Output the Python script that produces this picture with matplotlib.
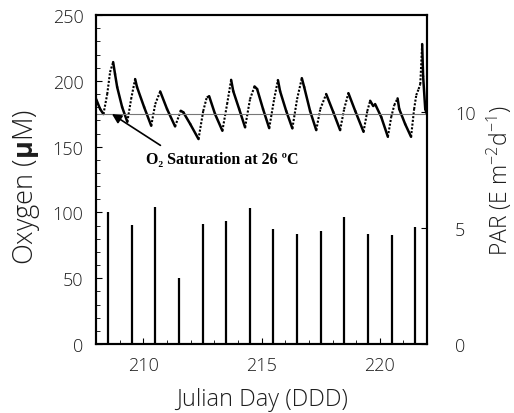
import matplotlib
matplotlib.use('Agg')
import matplotlib.pyplot as plt
import numpy as np
from matplotlib.ticker import MultipleLocator

# ---- data ----
o2_day = [208.00, 208.17, 208.31, 208.47, 208.59, 208.72, 208.80, 208.89, 209.10, 209.32,
          209.48, 209.65, 209.73, 210.03, 210.33,
          210.50, 210.71, 211.00, 211.34,
          211.58, 211.69, 211.98, 212.33,
          212.53, 212.68, 212.78, 213.03, 213.34,
          213.54, 213.71, 213.80, 214.05, 214.30,
          214.51, 214.70, 214.81, 215.06, 215.32,
          215.53, 215.69, 215.78, 216.04, 216.30,
          216.50, 216.70, 216.80, 217.05, 217.31,
          217.48, 217.73, 218.03, 218.32,
          218.49, 218.67, 218.96, 219.31,
          219.47, 219.59, 219.72, 219.80, 220.06, 220.34,
          220.48, 220.61, 220.75, 220.82, 221.07, 221.32,
          221.45, 221.54, 221.64, 221.71, 221.79, 221.83, 221.92, 221.99]
o2_um = [186.2, 178.6, 174.8, 190.0, 206.7, 214.3, 205.2, 195.3, 180.1, 168.9,
         186.2, 201.4, 195.3, 180.1, 165.9,
         182.4, 192.0, 178.6, 165.4,
         177.3, 176.1, 167.2, 155.8,
         177.1, 187.5, 188.4, 174.8, 162.1,
         182.4, 200.8, 192.2, 178.6, 164.7,
         186.2, 195.8, 193.8, 178.6, 164.1,
         186.2, 200.6, 192.2, 177.1, 163.9,
         186.2, 202.1, 195.3, 177.1, 162.6,
         178.6, 190.0, 176.3, 162.6,
         178.6, 190.7, 177.1, 161.3,
         177.1, 184.9, 180.9, 182.4, 172.5, 157.5,
         172.5, 181.6, 186.7, 178.6, 167.2, 157.5,
         178.6, 189.2, 193.8, 197.6, 228.0, 203.6, 178.6, 174.8]

par_day = [208.5, 209.5, 210.5, 211.5, 212.5, 213.5, 214.5,
           215.5, 216.5, 217.5, 218.5, 219.5, 220.5, 221.5]
par_val = [5.68, 5.13, 5.91, 2.84, 5.17, 5.33, 5.86,
           4.97, 4.74, 4.86, 5.49, 4.75, 4.70, 5.07]

o2_sat = 175.0
x_ticks = [210, 215, 220]

TXT = '#1e1e1e'
FONT = 'Open Sans'
plt.rcParams['font.family'] = [FONT, 'DejaVu Sans']
plt.rcParams['mathtext.fontset'] = 'custom'
plt.rcParams['mathtext.rm'] = 'Open Sans:light'
plt.rcParams['mathtext.bf'] = 'Open Sans:bold'

fig = plt.figure(figsize=(5.14, 4.14), dpi=100)
ax = fig.add_axes([0.187, 0.1667, 0.644, 0.7943])
ax2 = ax.twinx()

# oxygen: rising parts look dotted in the original (sparse samples), falls solid
d = np.array(o2_day)
v = np.array(o2_um)
for i in range(len(d) - 1):
    up = v[i + 1] > v[i]
    ax.plot(d[i:i + 2], v[i:i + 2], color='black',
            lw=1.5 if up else 1.8, ls=(0, (1, 0.8)) if up else '-',
            solid_capstyle='round')

ax.axhline(o2_sat, color='#777777', lw=0.8)

ax2.vlines(par_day, 0, par_val, color='black', lw=1.6)

ax.set_xlim(208, 222)
ax.set_ylim(0, 250)
ax2.set_ylim(0, 14.2)

ax.set_xticks(x_ticks)
ax.xaxis.set_minor_locator(MultipleLocator(1))
ax.yaxis.set_major_locator(MultipleLocator(50))
ax.yaxis.set_minor_locator(MultipleLocator(10))
ax2.set_yticks([0, 5, 10])

ax.tick_params(which='both', direction='in', colors='black', labelcolor=TXT,
               labelsize=13)
ax.tick_params(axis='y', pad=9)
ax.tick_params(axis='x', pad=9)
ax.tick_params(which='major', length=4)
ax.tick_params(which='minor', length=3)
ax2.tick_params(direction='in', length=4, labelcolor=TXT, labelsize=13, pad=20)
for lab in ax.get_xticklabels() + ax.get_yticklabels() + ax2.get_yticklabels():
    lab.set_fontweight('light')

for sp in list(ax.spines.values()) + list(ax2.spines.values()):
    sp.set_linewidth(1.5)

ax.set_xlabel('Julian Day (DDD)', fontsize=17, color=TXT, fontweight='light', labelpad=9)
ax.set_ylabel(r'Oxygen ($\mathbf{\mu}$M)', fontsize=19.5, color=TXT, fontweight='light')
ax.yaxis.set_label_coords(-0.165, 0.48)
ax2.set_ylabel(r'PAR (E m$^{\mathregular{-2}}$d$^{\mathregular{-1}}$)', fontsize=16.5,
               color=TXT, fontweight='light', labelpad=7)

ax.annotate('', xy=(208.67, 174.8), xytext=(210.72, 151),
            arrowprops=dict(arrowstyle='-|>', color='black', lw=1.2,
                            mutation_scale=14, shrinkA=0, shrinkB=0))
ax.text(213.35, 140.5, 'O\u2082 Saturation at 26 \u00baC',
        ha='center', va='center', fontsize=11.5, fontweight='bold',
        family=['Liberation Serif', 'DejaVu Serif'])

fig.savefig('out.png', dpi=100)
